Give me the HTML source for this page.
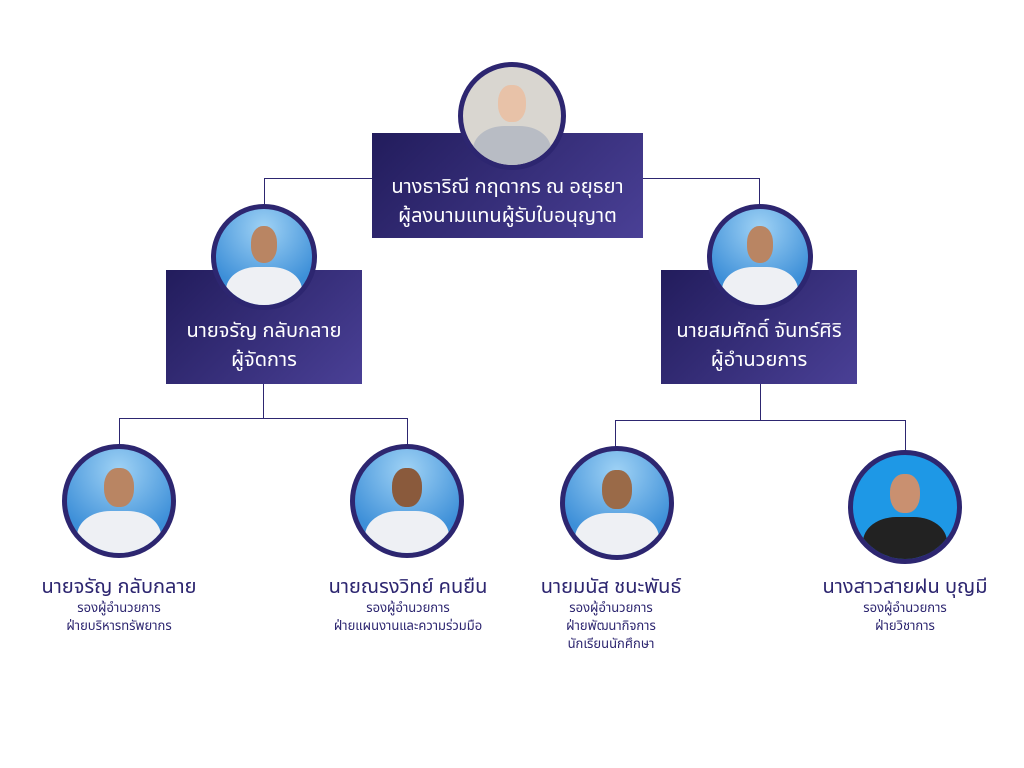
<!DOCTYPE html>
<html><head><meta charset="utf-8"><style>
body{margin:0;width:1024px;height:768px;background:#fff;position:relative;overflow:hidden;font-family:"Noto Sans Thai","Liberation Sans","DejaVu Sans",sans-serif;}
.box{position:absolute;background:linear-gradient(135deg,#221c5c,#4a4096);color:#fff;text-align:center;}
.c{position:absolute;border-radius:50%;box-sizing:border-box;border:5px solid #2d2670;overflow:hidden;background:radial-gradient(circle at 50% 20%,#9fd2f5,#3d8fd8 70%);}
.c .face{position:absolute;left:36%;top:18%;width:28%;height:38%;border-radius:45%;background:#b98563;}
.c .body{position:absolute;left:10%;top:60%;width:80%;height:60%;border-radius:40% 40% 0 0;background:#eef0f4;}
.l{position:absolute;background:#2d2670;}
.t{position:absolute;text-align:center;color:#2d2670;width:300px;}
.n{font-size:20px;line-height:24px}
.s{font-size:13px;line-height:18px}
</style></head><body>
<div class="l" style="left:264px;top:178px;width:496px;height:1px"></div>
<div class="l" style="left:264px;top:178px;width:1px;height:30px"></div>
<div class="l" style="left:759px;top:178px;width:1px;height:30px"></div>
<div class="l" style="left:263px;top:384px;width:1px;height:34px"></div>
<div class="l" style="left:119px;top:418px;width:288px;height:1px"></div>
<div class="l" style="left:119px;top:418px;width:1px;height:28px"></div>
<div class="l" style="left:407px;top:418px;width:1px;height:28px"></div>
<div class="l" style="left:760px;top:384px;width:1px;height:36px"></div>
<div class="l" style="left:615px;top:420px;width:290px;height:1px"></div>
<div class="l" style="left:615px;top:420px;width:1px;height:28px"></div>
<div class="l" style="left:905px;top:420px;width:1px;height:30px"></div>

<div class="box" style="left:372px;top:133px;width:271px;height:105px;"><div style="padding-top:40px;font-size:20px;line-height:29px">นางธาริณี กฤดากร ณ อยุธยา<br>ผู้ลงนามแทนผู้รับใบอนุญาต</div></div>
<div class="box" style="left:166px;top:270px;width:196px;height:114px;"><div style="padding-top:47px;font-size:20px;line-height:29px">นายจรัญ กลับกลาย<br>ผู้จัดการ</div></div>
<div class="box" style="left:661px;top:270px;width:196px;height:114px;"><div style="padding-top:47px;font-size:20px;line-height:29px">นายสมศักดิ์ จันทร์ศิริ<br>ผู้อำนวยการ</div></div>

<div class="c" style="left:458px;top:62px;width:108px;height:108px;background:#d9d6d0"><div class="face" style="background:#e8c2a8"></div><div class="body" style="background:#b8bcc4"></div></div>
<div class="c" style="left:211px;top:204px;width:106px;height:106px"><div class="face"></div><div class="body"></div></div>
<div class="c" style="left:707px;top:204px;width:106px;height:106px"><div class="face"></div><div class="body"></div></div>
<div class="c" style="left:62px;top:444px;width:114px;height:114px"><div class="face"></div><div class="body"></div></div>
<div class="c" style="left:350px;top:444px;width:114px;height:114px"><div class="face" style="background:#8a5a3c"></div><div class="body"></div></div>
<div class="c" style="left:560px;top:446px;width:114px;height:114px"><div class="face" style="background:#9a6a48"></div><div class="body"></div></div>
<div class="c" style="left:848px;top:450px;width:114px;height:114px;background:#1e98e6"><div class="face" style="background:#c99070"></div><div class="body" style="background:#222"></div></div>

<div class="t" style="left:-31px;top:575px"><div class="n">นายจรัญ กลับกลาย</div><div class="s">รองผู้อำนวยการ<br>ฝ่ายบริหารทรัพยากร</div></div>
<div class="t" style="left:258px;top:575px"><div class="n">นายณรงวิทย์ คนยืน</div><div class="s">รองผู้อำนวยการ<br>ฝ่ายแผนงานและความร่วมมือ</div></div>
<div class="t" style="left:461px;top:575px"><div class="n">นายมนัส ชนะพันธ์</div><div class="s">รองผู้อำนวยการ<br>ฝ่ายพัฒนากิจการ<br>นักเรียนนักศึกษา</div></div>
<div class="t" style="left:755px;top:575px"><div class="n">นางสาวสายฝน บุญมี</div><div class="s">รองผู้อำนวยการ<br>ฝ่ายวิชาการ</div></div>
</body></html>
